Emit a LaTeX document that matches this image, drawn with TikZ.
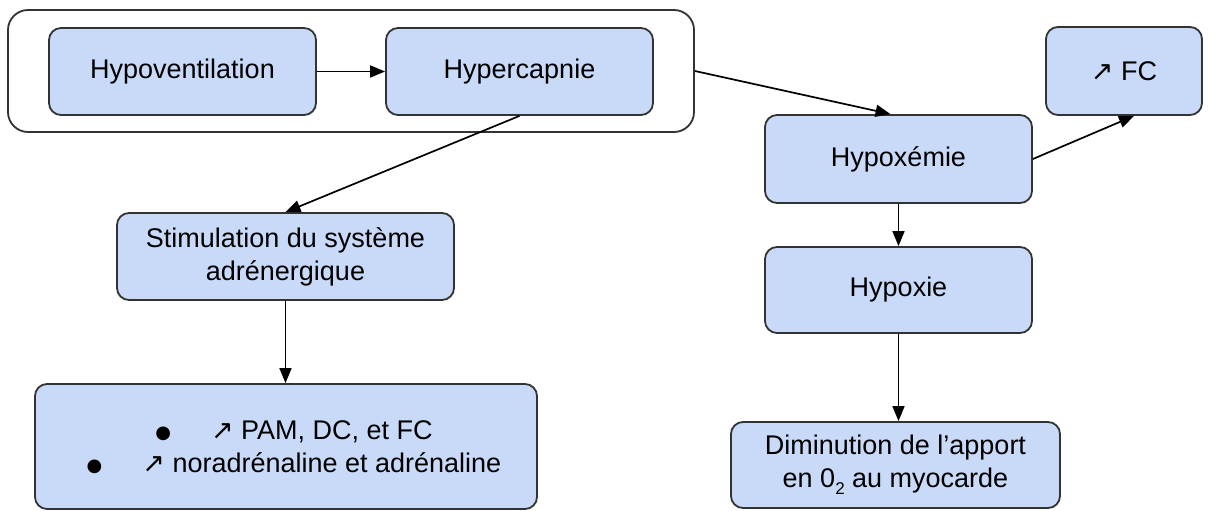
\documentclass[tikz,border=0pt]{standalone}
\usepackage{fontspec}
\setmainfont{Liberation Sans}
\newfontfamily\dejavu{DejaVu Sans}
\usetikzlibrary{arrows.meta}
\definecolor{boxblue}{HTML}{C9DAF8}
\definecolor{edgegray}{HTML}{333333}
\newcommand{\uparr}{{\dejavu ↗}}
\newcommand{\bigbul}{\raisebox{1.5pt}{\fontsize{18}{18}\dejavu ●}}
\begin{document}
\begin{tikzpicture}[x=1pt,y=-1pt,
  box/.style={draw=edgegray, line width=1.8pt, fill=boxblue, rounded corners=12pt,
              align=center, font=\fontsize{27}{33}\selectfont, inner sep=0pt},
  group/.style={draw=edgegray, line width=1.8pt, rounded corners=20pt, inner sep=0pt},
  arr/.style={line width=1.7pt, draw=black, -{Triangle[length=15pt,width=12pt]}},
  txt/.style={align=center, font=\fontsize{27}{33}\selectfont, inner sep=0pt}
]
\useasboundingbox (0,0) rectangle (1227,511);
\node[group, minimum width=686pt, minimum height=122pt] (grp) at (351,71) {};
\node[box, minimum width=267pt, minimum height=87pt] (hypov) at (182.5,71.5) {Hypoventilation};
\node[box, minimum width=267pt, minimum height=87pt] (hyperc) at (519.5,71.5) {Hypercapnie};
\node[box, minimum width=156pt, minimum height=88pt] (fc) at (1124,71) {\uparr{} FC};
\node[box, minimum width=267pt, minimum height=88pt] (hypox) at (898.5,159) {Hypoxémie};
\node[box, minimum width=267pt, minimum height=86pt] (hypoxie) at (898.5,290) {Hypoxie};
\node[box, minimum width=329pt, minimum height=86pt] (dim) at (895.5,465)
  {Diminution de l’apport\\en 0\raisebox{-7pt}{\fontsize{17}{17}\selectfont 2} au myocarde};
\node[box, minimum width=337pt, minimum height=87pt] (stim) at (285.5,256.5)
  {Stimulation du système\\adrénergique};
\node[box, minimum width=502pt, minimum height=125pt] (bul) at (286,446.5) {};
\node[txt] (bultext) at (294,447)
  {\bigbul\hspace{40pt}\uparr{} PAM, DC, et FC\\\bigbul\hspace{40pt}\uparr{} noradrénaline et adrénaline};
\draw[arr] (hypov.east) -- (hyperc.west);
\draw[arr] (grp.east) -- ([xshift=-8pt]hypox.north);
\draw[arr] (hyperc.south) -- (stim.north);
\draw[arr] (stim.south) -- (stim.south |- bul.north);
\draw[arr] (hypox.south) -- (hypoxie.north);
\draw[arr] (hypoxie.south) -- (hypoxie.south |- dim.north);
\draw[arr] (hypox.east) -- ([xshift=10pt]fc.south);
\end{tikzpicture}
\end{document}
